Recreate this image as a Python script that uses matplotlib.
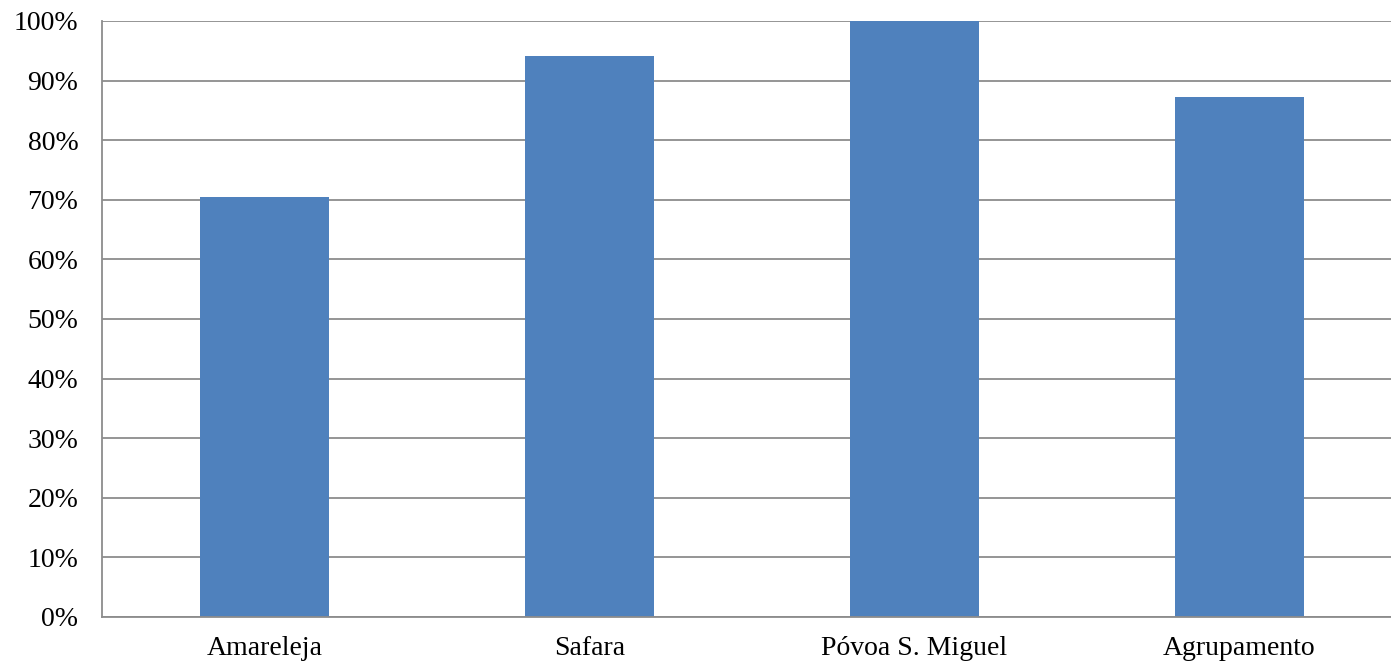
import matplotlib.pyplot as plt
from matplotlib.ticker import PercentFormatter

categories = ['Amareleja', 'Safara', 'Póvoa S. Miguel', 'Agrupamento']
values = [70.5, 94.1, 100.0, 87.2]
yticks = list(range(0, 101, 10))

plt.rcParams['font.family'] = ['Liberation Serif', 'DejaVu Serif']

fig = plt.figure(figsize=(13.91, 6.63), dpi=100)
# plot area runs slightly past the right edge of the image
ax = fig.add_axes([102 / 1391, 1 - 617 / 663, (1402 - 102) / 1391, (617 - 21) / 663])

x = range(len(categories))
ax.bar(x, values, width=0.397, color='#4f81bd', zorder=2)

ax.set_xlim(-0.5, len(categories) - 0.5)
ax.set_ylim(0, 100)
ax.set_yticks(yticks)
ax.yaxis.set_major_formatter(PercentFormatter(decimals=0))
ax.set_xticks(list(x))
ax.set_xticklabels(categories)
ax.tick_params(axis='both', length=0, colors='black')
ax.tick_params(axis='x', labelsize=20, pad=14)
ax.tick_params(axis='y', labelsize=20, pad=17)

ax.grid(axis='y', color='#8c8c8c', linewidth=1.3, zorder=0)
for side in ['top', 'right']:
    ax.spines[side].set_visible(False)
for side in ['left', 'bottom']:
    ax.spines[side].set_color('#8c8c8c')
    ax.spines[side].set_linewidth(1.3)

fig.savefig('out.png', dpi=100)
